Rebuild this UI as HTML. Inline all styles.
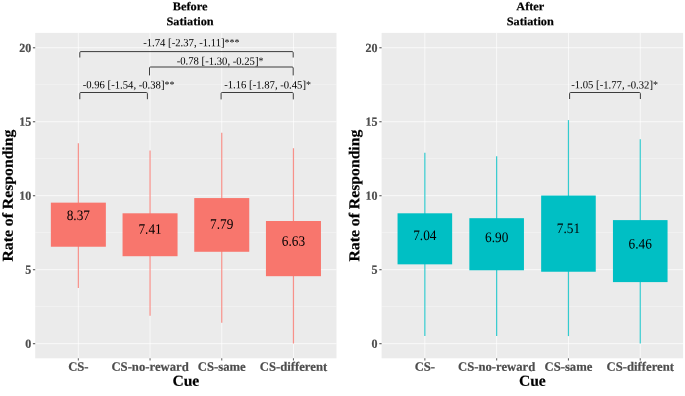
<!DOCTYPE html>
<html lang="en"><head><meta charset="utf-8"><title>Rate of Responding by Cue</title>
<style>html,body{margin:0;padding:0;background:#fff}body{width:685px;height:396px;overflow:hidden}svg{display:block}</style></head>
<body>
<svg width="685" height="396" viewBox="0 0 685 396" font-family='"Liberation Serif", "Times New Roman", serif' text-rendering="geometricPrecision">
<rect width="685" height="396" fill="#fff"/>
<rect x="35.2" y="32.9" width="301.30" height="325.40" fill="#EBEBEB"/>
<line x1="35.2" x2="336.5" y1="306.51" y2="306.51" stroke="#fff" stroke-opacity="0.7" stroke-width="0.45"/>
<line x1="35.2" x2="336.5" y1="232.54" y2="232.54" stroke="#fff" stroke-opacity="0.7" stroke-width="0.45"/>
<line x1="35.2" x2="336.5" y1="158.56" y2="158.56" stroke="#fff" stroke-opacity="0.7" stroke-width="0.45"/>
<line x1="35.2" x2="336.5" y1="84.59" y2="84.59" stroke="#fff" stroke-opacity="0.7" stroke-width="0.45"/>
<line x1="35.2" x2="336.5" y1="343.65" y2="343.65" stroke="#fff" stroke-opacity="0.72" stroke-width="1.0"/>
<line x1="35.2" x2="336.5" y1="269.67" y2="269.67" stroke="#fff" stroke-opacity="0.72" stroke-width="1.0"/>
<line x1="35.2" x2="336.5" y1="195.70" y2="195.70" stroke="#fff" stroke-opacity="0.72" stroke-width="1.0"/>
<line x1="35.2" x2="336.5" y1="121.72" y2="121.72" stroke="#fff" stroke-opacity="0.72" stroke-width="1.0"/>
<line x1="35.2" x2="336.5" y1="47.75" y2="47.75" stroke="#fff" stroke-opacity="0.72" stroke-width="1.0"/>
<line x1="78.35" x2="78.35" y1="32.9" y2="358.3" stroke="#fff" stroke-opacity="0.85" stroke-width="0.8"/>
<line x1="150.05" x2="150.05" y1="32.9" y2="358.3" stroke="#fff" stroke-opacity="0.85" stroke-width="0.8"/>
<line x1="221.75" x2="221.75" y1="32.9" y2="358.3" stroke="#fff" stroke-opacity="0.85" stroke-width="0.8"/>
<line x1="293.45" x2="293.45" y1="32.9" y2="358.3" stroke="#fff" stroke-opacity="0.85" stroke-width="0.8"/>
<line x1="78.35" x2="78.35" y1="143.18" y2="288.02" stroke="#F8766D" stroke-opacity="0.8" stroke-width="1.2"/>
<rect x="50.85" y="202.65" width="55.0" height="44.09" fill="#F8766D"/>
<text transform="translate(78.35 220.00) rotate(0.05) scale(1 1.085)" font-size="13.3" text-anchor="middle" fill="#000">8.37</text>
<line x1="150.05" x2="150.05" y1="150.43" y2="315.83" stroke="#F8766D" stroke-opacity="0.8" stroke-width="1.2"/>
<rect x="122.55" y="213.30" width="55.0" height="42.91" fill="#F8766D"/>
<text transform="translate(150.05 233.85) rotate(0.05) scale(1 1.085)" font-size="13.3" text-anchor="middle" fill="#000">7.41</text>
<line x1="221.75" x2="221.75" y1="132.67" y2="322.79" stroke="#F8766D" stroke-opacity="0.8" stroke-width="1.2"/>
<rect x="194.25" y="198.07" width="55.0" height="53.71" fill="#F8766D"/>
<text transform="translate(221.75 228.85) rotate(0.05) scale(1 1.085)" font-size="13.3" text-anchor="middle" fill="#000">7.79</text>
<line x1="293.45" x2="293.45" y1="148.21" y2="343.50" stroke="#F8766D" stroke-opacity="0.8" stroke-width="1.2"/>
<rect x="265.95" y="221.00" width="55.0" height="55.19" fill="#F8766D"/>
<text transform="translate(293.45 245.70) rotate(0.05) scale(1 1.085)" font-size="13.3" text-anchor="middle" fill="#000">6.63</text>
<path d="M79.80 57.50 L79.80 52.60 Q79.80 51.60 80.80 51.60 L292.20 51.60 Q293.20 51.60 293.20 52.60 L293.20 57.50" fill="none" stroke="#333" stroke-width="0.95" stroke-linejoin="round"/>
<text transform="translate(143.20 46.20) rotate(0.05) scale(1 1.04)" font-size="10.68" text-anchor="start" fill="#000">-1.74 [-2.37, -1.11]<tspan font-size="10" dy="-0.4">***</tspan></text>
<path d="M149.50 75.40 L149.50 68.00 Q149.50 67.00 150.50 67.00 L292.20 67.00 Q293.20 67.00 293.20 68.00 L293.20 75.40" fill="none" stroke="#333" stroke-width="0.95" stroke-linejoin="round"/>
<text transform="translate(176.70 64.60) rotate(0.05) scale(1 1.04)" font-size="10.68" text-anchor="start" fill="#000">-0.78 [-1.30, -0.25]<tspan font-size="10" dy="-0.4">*</tspan></text>
<path d="M79.80 99.20 L79.80 93.50 Q79.80 92.50 80.80 92.50 L146.40 92.50 Q147.40 92.50 147.40 93.50 L147.40 99.20" fill="none" stroke="#333" stroke-width="0.95" stroke-linejoin="round"/>
<text transform="translate(82.70 88.35) rotate(0.05) scale(1 1.04)" font-size="10.68" text-anchor="start" fill="#000">-0.96 [-1.54, -0.38]<tspan font-size="10" dy="-0.4">**</tspan></text>
<path d="M221.10 99.40 L221.10 93.50 Q221.10 92.50 222.10 92.50 L292.30 92.50 Q293.30 92.50 293.30 93.50 L293.30 99.40" fill="none" stroke="#333" stroke-width="0.95" stroke-linejoin="round"/>
<text transform="translate(224.20 88.35) rotate(0.05) scale(1 1.04)" font-size="10.68" text-anchor="start" fill="#000">-1.16 [-1.87, -0.45]<tspan font-size="10" dy="-0.4">*</tspan></text>
<line x1="32.90" x2="35.2" y1="343.65" y2="343.65" stroke="#4a4a4a" stroke-opacity="0.85" stroke-width="1.2"/>
<text transform="translate(31.20 347.80) rotate(0.05) scale(1 1.035)" font-size="12.0" font-weight="bold" text-anchor="end" fill="#4D4D4D" stroke="#4D4D4D" stroke-width="0.2">0</text>
<line x1="32.90" x2="35.2" y1="269.67" y2="269.67" stroke="#4a4a4a" stroke-opacity="0.85" stroke-width="1.2"/>
<text transform="translate(31.20 273.82) rotate(0.05) scale(1 1.035)" font-size="12.0" font-weight="bold" text-anchor="end" fill="#4D4D4D" stroke="#4D4D4D" stroke-width="0.2">5</text>
<line x1="32.90" x2="35.2" y1="195.70" y2="195.70" stroke="#4a4a4a" stroke-opacity="0.85" stroke-width="1.2"/>
<text transform="translate(31.20 199.85) rotate(0.05) scale(1 1.035)" font-size="12.0" font-weight="bold" text-anchor="end" fill="#4D4D4D" stroke="#4D4D4D" stroke-width="0.2">10</text>
<line x1="32.90" x2="35.2" y1="121.72" y2="121.72" stroke="#4a4a4a" stroke-opacity="0.85" stroke-width="1.2"/>
<text transform="translate(31.20 125.87) rotate(0.05) scale(1 1.035)" font-size="12.0" font-weight="bold" text-anchor="end" fill="#4D4D4D" stroke="#4D4D4D" stroke-width="0.2">15</text>
<line x1="32.90" x2="35.2" y1="47.75" y2="47.75" stroke="#4a4a4a" stroke-opacity="0.85" stroke-width="1.2"/>
<text transform="translate(31.20 51.90) rotate(0.05) scale(1 1.035)" font-size="12.0" font-weight="bold" text-anchor="end" fill="#4D4D4D" stroke="#4D4D4D" stroke-width="0.2">20</text>
<line x1="78.35" x2="78.35" y1="358.3" y2="360.6" stroke="#4a4a4a" stroke-opacity="0.85" stroke-width="1.07"/>
<text transform="translate(78.35 370.85) rotate(0.05) scale(1 1.0)" font-size="12.7" font-weight="bold" text-anchor="middle" fill="#4D4D4D" stroke="#4D4D4D" stroke-width="0.2">CS-</text>
<line x1="150.05" x2="150.05" y1="358.3" y2="360.6" stroke="#4a4a4a" stroke-opacity="0.85" stroke-width="1.07"/>
<text transform="translate(150.05 370.85) rotate(0.05) scale(1 1.0)" font-size="12.7" font-weight="bold" text-anchor="middle" fill="#4D4D4D" stroke="#4D4D4D" stroke-width="0.2">CS-no-reward</text>
<line x1="221.75" x2="221.75" y1="358.3" y2="360.6" stroke="#4a4a4a" stroke-opacity="0.85" stroke-width="1.07"/>
<text transform="translate(221.75 370.85) rotate(0.05) scale(1 1.0)" font-size="12.7" font-weight="bold" text-anchor="middle" fill="#4D4D4D" stroke="#4D4D4D" stroke-width="0.2">CS-same</text>
<line x1="293.45" x2="293.45" y1="358.3" y2="360.6" stroke="#4a4a4a" stroke-opacity="0.85" stroke-width="1.07"/>
<text transform="translate(293.45 370.85) rotate(0.05) scale(1 1.0)" font-size="12.7" font-weight="bold" text-anchor="middle" fill="#4D4D4D" stroke="#4D4D4D" stroke-width="0.2">CS-different</text>
<text transform="translate(185.85 385.70) rotate(0.05) scale(1 0.98)" font-size="15.6" font-weight="bold" text-anchor="middle" fill="#000" stroke="#000" stroke-width="0.2">Cue</text>
<text transform="translate(190.10 10.30) rotate(0.05) scale(1 0.96)" font-size="12.3" font-weight="bold" text-anchor="middle" fill="#000" stroke="#000" stroke-width="0.2">Before</text>
<text transform="translate(190.10 25.30) rotate(0.05) scale(1 0.96)" font-size="12.3" font-weight="bold" text-anchor="middle" fill="#000" stroke="#000" stroke-width="0.2">Satiation</text>
<text transform="translate(12.80 195.60) rotate(-89.95) scale(1 0.96)" font-size="15.73" font-weight="bold" text-anchor="middle" fill="#000" stroke="#000" stroke-width="0.2">Rate of Responding</text>
<rect x="381.6" y="32.9" width="301.50" height="325.40" fill="#EBEBEB"/>
<line x1="381.6" x2="683.1" y1="306.51" y2="306.51" stroke="#fff" stroke-opacity="0.7" stroke-width="0.45"/>
<line x1="381.6" x2="683.1" y1="232.54" y2="232.54" stroke="#fff" stroke-opacity="0.7" stroke-width="0.45"/>
<line x1="381.6" x2="683.1" y1="158.56" y2="158.56" stroke="#fff" stroke-opacity="0.7" stroke-width="0.45"/>
<line x1="381.6" x2="683.1" y1="84.59" y2="84.59" stroke="#fff" stroke-opacity="0.7" stroke-width="0.45"/>
<line x1="381.6" x2="683.1" y1="343.65" y2="343.65" stroke="#fff" stroke-opacity="0.72" stroke-width="1.0"/>
<line x1="381.6" x2="683.1" y1="269.67" y2="269.67" stroke="#fff" stroke-opacity="0.72" stroke-width="1.0"/>
<line x1="381.6" x2="683.1" y1="195.70" y2="195.70" stroke="#fff" stroke-opacity="0.72" stroke-width="1.0"/>
<line x1="381.6" x2="683.1" y1="121.72" y2="121.72" stroke="#fff" stroke-opacity="0.72" stroke-width="1.0"/>
<line x1="381.6" x2="683.1" y1="47.75" y2="47.75" stroke="#fff" stroke-opacity="0.72" stroke-width="1.0"/>
<line x1="424.85" x2="424.85" y1="32.9" y2="358.3" stroke="#fff" stroke-opacity="0.85" stroke-width="0.8"/>
<line x1="496.65" x2="496.65" y1="32.9" y2="358.3" stroke="#fff" stroke-opacity="0.85" stroke-width="0.8"/>
<line x1="568.45" x2="568.45" y1="32.9" y2="358.3" stroke="#fff" stroke-opacity="0.85" stroke-width="0.8"/>
<line x1="640.25" x2="640.25" y1="32.9" y2="358.3" stroke="#fff" stroke-opacity="0.85" stroke-width="0.8"/>
<line x1="424.85" x2="424.85" y1="152.64" y2="336.10" stroke="#00BFC4" stroke-opacity="0.8" stroke-width="1.2"/>
<rect x="397.55" y="213.30" width="54.6" height="51.04" fill="#00BFC4"/>
<text transform="translate(424.85 239.90) rotate(0.05) scale(1 1.085)" font-size="13.3" text-anchor="middle" fill="#000">7.04</text>
<line x1="496.65" x2="496.65" y1="156.34" y2="336.10" stroke="#00BFC4" stroke-opacity="0.8" stroke-width="1.2"/>
<rect x="469.35" y="218.19" width="54.6" height="52.08" fill="#00BFC4"/>
<text transform="translate(496.65 242.00) rotate(0.05) scale(1 1.085)" font-size="13.3" text-anchor="middle" fill="#000">6.90</text>
<line x1="568.45" x2="568.45" y1="120.10" y2="336.10" stroke="#00BFC4" stroke-opacity="0.8" stroke-width="1.2"/>
<rect x="541.15" y="195.55" width="54.6" height="76.19" fill="#00BFC4"/>
<text transform="translate(568.45 233.00) rotate(0.05) scale(1 1.085)" font-size="13.3" text-anchor="middle" fill="#000">7.51</text>
<line x1="640.25" x2="640.25" y1="139.33" y2="343.50" stroke="#00BFC4" stroke-opacity="0.8" stroke-width="1.2"/>
<rect x="612.95" y="220.11" width="54.6" height="61.99" fill="#00BFC4"/>
<text transform="translate(640.25 248.50) rotate(0.05) scale(1 1.085)" font-size="13.3" text-anchor="middle" fill="#000">6.46</text>
<path d="M569.60 99.00 L569.60 93.50 Q569.60 92.50 570.60 92.50 L639.40 92.50 Q640.40 92.50 640.40 93.50 L640.40 99.00" fill="none" stroke="#333" stroke-width="0.95" stroke-linejoin="round"/>
<text transform="translate(571.20 88.35) rotate(0.05) scale(1 1.04)" font-size="10.68" text-anchor="start" fill="#000">-1.05 [-1.77, -0.32]<tspan font-size="10" dy="-0.4">*</tspan></text>
<line x1="379.30" x2="381.6" y1="343.65" y2="343.65" stroke="#4a4a4a" stroke-opacity="0.85" stroke-width="1.2"/>
<text transform="translate(377.60 347.80) rotate(0.05) scale(1 1.035)" font-size="12.0" font-weight="bold" text-anchor="end" fill="#4D4D4D" stroke="#4D4D4D" stroke-width="0.2">0</text>
<line x1="379.30" x2="381.6" y1="269.67" y2="269.67" stroke="#4a4a4a" stroke-opacity="0.85" stroke-width="1.2"/>
<text transform="translate(377.60 273.82) rotate(0.05) scale(1 1.035)" font-size="12.0" font-weight="bold" text-anchor="end" fill="#4D4D4D" stroke="#4D4D4D" stroke-width="0.2">5</text>
<line x1="379.30" x2="381.6" y1="195.70" y2="195.70" stroke="#4a4a4a" stroke-opacity="0.85" stroke-width="1.2"/>
<text transform="translate(377.60 199.85) rotate(0.05) scale(1 1.035)" font-size="12.0" font-weight="bold" text-anchor="end" fill="#4D4D4D" stroke="#4D4D4D" stroke-width="0.2">10</text>
<line x1="379.30" x2="381.6" y1="121.72" y2="121.72" stroke="#4a4a4a" stroke-opacity="0.85" stroke-width="1.2"/>
<text transform="translate(377.60 125.87) rotate(0.05) scale(1 1.035)" font-size="12.0" font-weight="bold" text-anchor="end" fill="#4D4D4D" stroke="#4D4D4D" stroke-width="0.2">15</text>
<line x1="379.30" x2="381.6" y1="47.75" y2="47.75" stroke="#4a4a4a" stroke-opacity="0.85" stroke-width="1.2"/>
<text transform="translate(377.60 51.90) rotate(0.05) scale(1 1.035)" font-size="12.0" font-weight="bold" text-anchor="end" fill="#4D4D4D" stroke="#4D4D4D" stroke-width="0.2">20</text>
<line x1="424.85" x2="424.85" y1="358.3" y2="360.6" stroke="#4a4a4a" stroke-opacity="0.85" stroke-width="1.07"/>
<text transform="translate(424.85 370.85) rotate(0.05) scale(1 1.0)" font-size="12.7" font-weight="bold" text-anchor="middle" fill="#4D4D4D" stroke="#4D4D4D" stroke-width="0.2">CS-</text>
<line x1="496.65" x2="496.65" y1="358.3" y2="360.6" stroke="#4a4a4a" stroke-opacity="0.85" stroke-width="1.07"/>
<text transform="translate(496.65 370.85) rotate(0.05) scale(1 1.0)" font-size="12.7" font-weight="bold" text-anchor="middle" fill="#4D4D4D" stroke="#4D4D4D" stroke-width="0.2">CS-no-reward</text>
<line x1="568.45" x2="568.45" y1="358.3" y2="360.6" stroke="#4a4a4a" stroke-opacity="0.85" stroke-width="1.07"/>
<text transform="translate(568.45 370.85) rotate(0.05) scale(1 1.0)" font-size="12.7" font-weight="bold" text-anchor="middle" fill="#4D4D4D" stroke="#4D4D4D" stroke-width="0.2">CS-same</text>
<line x1="640.25" x2="640.25" y1="358.3" y2="360.6" stroke="#4a4a4a" stroke-opacity="0.85" stroke-width="1.07"/>
<text transform="translate(640.25 370.85) rotate(0.05) scale(1 1.0)" font-size="12.7" font-weight="bold" text-anchor="middle" fill="#4D4D4D" stroke="#4D4D4D" stroke-width="0.2">CS-different</text>
<text transform="translate(532.35 385.70) rotate(0.05) scale(1 0.98)" font-size="15.6" font-weight="bold" text-anchor="middle" fill="#000" stroke="#000" stroke-width="0.2">Cue</text>
<text transform="translate(530.25 10.30) rotate(0.05) scale(1 0.96)" font-size="12.3" font-weight="bold" text-anchor="middle" fill="#000" stroke="#000" stroke-width="0.2">After</text>
<text transform="translate(530.25 25.30) rotate(0.05) scale(1 0.96)" font-size="12.3" font-weight="bold" text-anchor="middle" fill="#000" stroke="#000" stroke-width="0.2">Satiation</text>
<text transform="translate(359.20 195.60) rotate(-89.95) scale(1 0.96)" font-size="15.73" font-weight="bold" text-anchor="middle" fill="#000" stroke="#000" stroke-width="0.2">Rate of Responding</text>
</svg>
</body></html>
